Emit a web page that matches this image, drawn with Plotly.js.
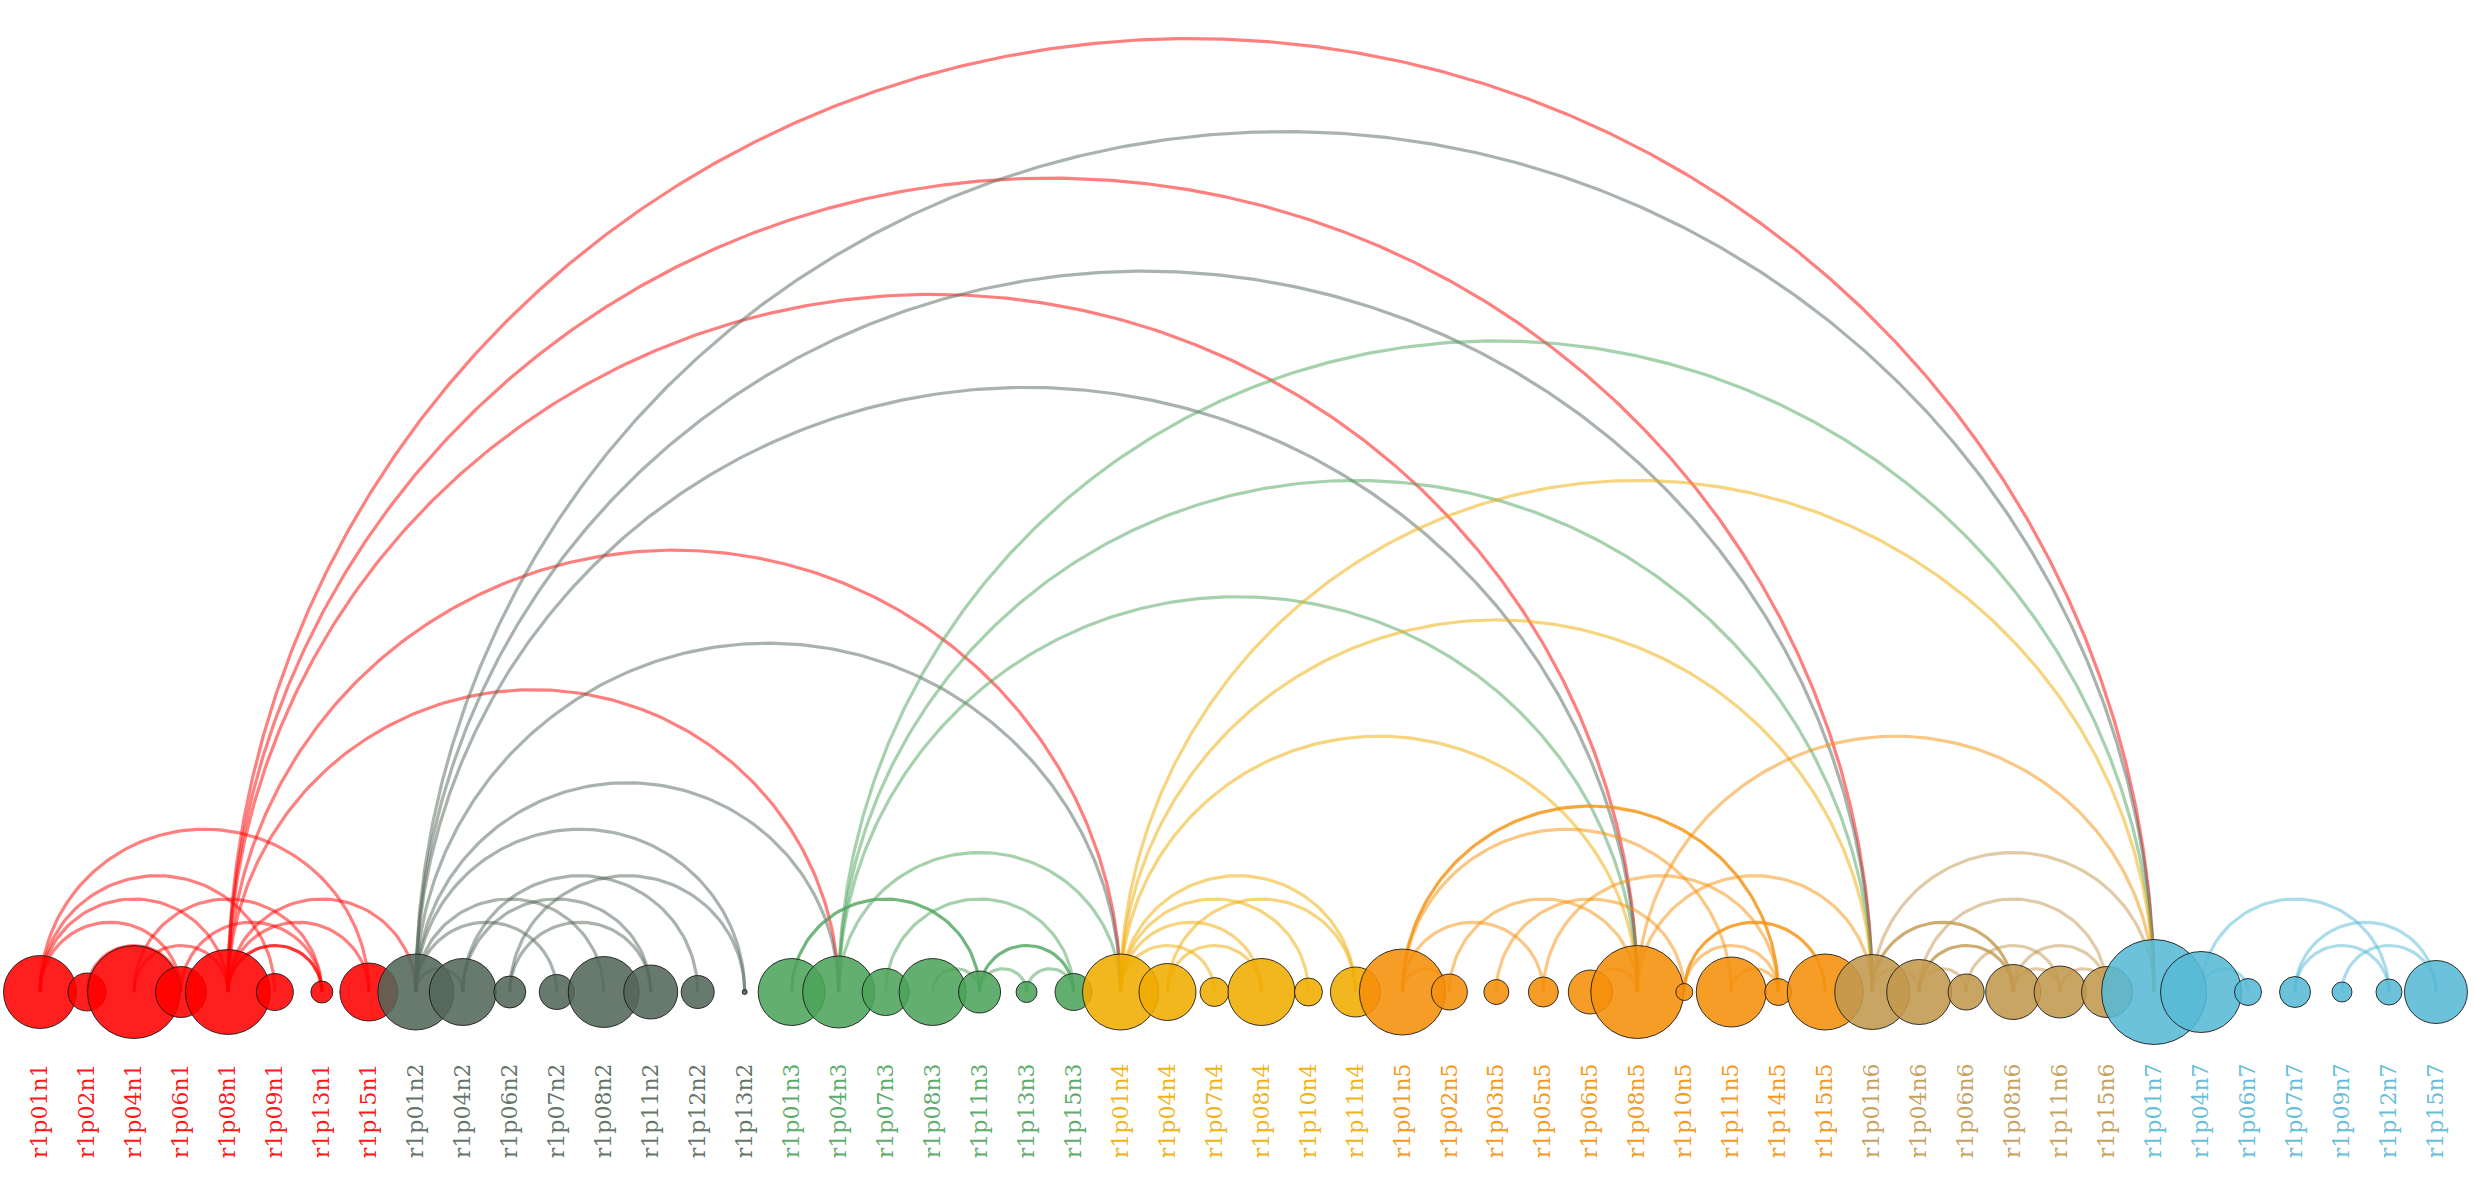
<!DOCTYPE html>
<html>
<head>
<meta charset="utf-8">
<script src="https://cdn.plot.ly/plotly-3.0.1.min.js"></script>
<style>
html,body{margin:0;padding:0;background:#ffffff;}
#chart{width:2474px;height:1177px;}
</style>
</head>
<body>
<div id="chart"></div>
<script>
// ---- node data ----
const nodeNames = [
  'r1p01n1','r1p02n1','r1p04n1','r1p06n1','r1p08n1','r1p09n1','r1p13n1','r1p15n1',
  'r1p01n2','r1p04n2','r1p06n2','r1p07n2','r1p08n2','r1p11n2','r1p12n2','r1p13n2',
  'r1p01n3','r1p04n3','r1p07n3','r1p08n3','r1p11n3','r1p13n3','r1p15n3',
  'r1p01n4','r1p04n4','r1p07n4','r1p08n4','r1p10n4','r1p11n4',
  'r1p01n5','r1p02n5','r1p03n5','r1p05n5','r1p06n5','r1p08n5','r1p10n5','r1p11n5','r1p14n5','r1p15n5',
  'r1p01n6','r1p04n6','r1p06n6','r1p08n6','r1p11n6','r1p15n6',
  'r1p01n7','r1p04n7','r1p06n7','r1p07n7','r1p09n7','r1p12n7','r1p15n7'
];
const nodeGroups = [
  0,0,0,0,0,0,0,0,
  1,1,1,1,1,1,1,1,
  2,2,2,2,2,2,2,
  3,3,3,3,3,3,
  4,4,4,4,4,4,4,4,4,4,
  5,5,5,5,5,5,
  6,6,6,6,6,6,6
];
const nodeSizes = [
  73,38,93,51,85,37,22,58,
  76,67,32,35,71,54,33,5,
  67,72,47,67,42,21,37,
  76,57,29,67,28,50,
  86,36,25,30,44,93,17,70,27,76,
  75,65,36,55,52,51,
  105,81,27,31,20,26,63
];
const groupColors = ['#FF0000','#536759','#4DA45B','#F0AC00','#F5900A','#C2984D','#57B9D5'];

// ---- edge data (indices into nodeNames) ----
const edgeSource = [
  0,0,0,0,1,2,2,3,4,4,4,4,4,4,4,4,
  8,8,8,8,8,8,8,8,8,9,9,10,10,
  16,17,17,17,17,18,19,20,20,21,
  23,23,23,23,23,23,23,24,24,
  29,29,29,29,30,31,32,33,34,34,35,35,36,
  39,39,39,40,40,40,41,42,42,43,
  46,46,48,48,49
];
const edgeTarget = [
  3,4,5,7,3,4,6,6,6,7,8,17,23,34,39,45,
  9,11,12,15,17,23,34,39,45,13,14,13,15,
  20,23,34,39,45,22,20,21,22,22,
  25,26,27,28,34,39,45,26,28,
  30,32,36,37,34,35,37,34,39,45,37,38,37,
  40,42,45,41,42,44,43,43,44,44,
  47,50,50,51,51
];
const edgeWeight = [
  1,1,1,1,1,1,1,1,2,1,1,1,1,1,1,1,
  1,1,1,1,1,1,1,1,1,1,1,1,1,
  2,1,1,1,1,1,1,1,2,1,
  1,1,1,1,1,1,1,1,1,
  1,1,1,2,1,1,1,1,1,1,1,2,1,
  1,2,1,1,2,1,1,1,1,1,
  1,1,1,1,1
];

function hexToRgba(hex, a){
  const n = parseInt(hex.slice(1),16);
  return 'rgba('+((n>>16)&255)+','+((n>>8)&255)+','+(n&255)+','+a+')';
}
function arcPoints(s, t){
  const c = (s+t)/2, r = Math.abs(t-s)/2;
  const xs=[], ys=[];
  const N = Math.max(24, Math.round(r*30));
  for(let k=0;k<=N;k++){
    const th = Math.PI - Math.PI*k/N;
    xs.push(c + r*Math.cos(th));
    ys.push(r*Math.sin(th));
  }
  return [xs, ys];
}
const traces = [];
const buckets = {};
for(let e=0;e<edgeSource.length;e++){
  const s = edgeSource[e], t = edgeTarget[e], w = edgeWeight[e];
  const g = nodeGroups[s];
  const key = g+'_'+w;
  if(!buckets[key]) buckets[key] = {g:g, w:w, x:[], y:[]};
  const p = arcPoints(s,t);
  buckets[key].x.push(...p[0], null);
  buckets[key].y.push(...p[1], null);
}
Object.keys(buckets).sort((a,b)=>buckets[a].w-buckets[b].w).forEach(k=>{
  const b = buckets[k];
  traces.push({
    type:'scatter', mode:'lines', x:b.x, y:b.y, hoverinfo:'skip',
    line:{color: hexToRgba(groupColors[b.g], b.w===2?0.8:0.5), width:3.2},
    showlegend:false
  });
});
const idx = nodeNames.map((_,i)=>i);
traces.push({
  type:'scatter', mode:'markers', x:idx, y:idx.map(()=>0),
  text:nodeNames, hoverinfo:'text',
  marker:{
    size:nodeSizes, opacity:1,
    color:nodeGroups.map(g=>hexToRgba(groupColors[g],0.88)),
    line:{color:'rgba(20,20,20,0.85)', width:1}
  },
  showlegend:false
});
const tickText = nodeNames.map((n,i)=>'<span style="color:'+hexToRgba(groupColors[nodeGroups[i]],0.92)+'">'+n+'</span>');
const layout = {
  width:2474, height:1177,
  margin:{l:0,r:0,t:0,b:119,pad:0},
  paper_bgcolor:'#ffffff', plot_bgcolor:'#ffffff',
  showlegend:false,
  xaxis:{
    range:[-0.851, 51.81], showgrid:false, zeroline:false, showline:false,
    ticks:'', tickvals:idx, ticktext:tickText, tickangle:-90,
    tickfont:{family:'DejaVu Serif', size:22}
  },
  yaxis:{range:[-1.419, 21.33], visible:false, showgrid:false, zeroline:false},
  hovermode:'closest'
};
Plotly.newPlot('chart', traces, layout, {displayModeBar:false, staticPlot:true});
</script>
</body>
</html>
